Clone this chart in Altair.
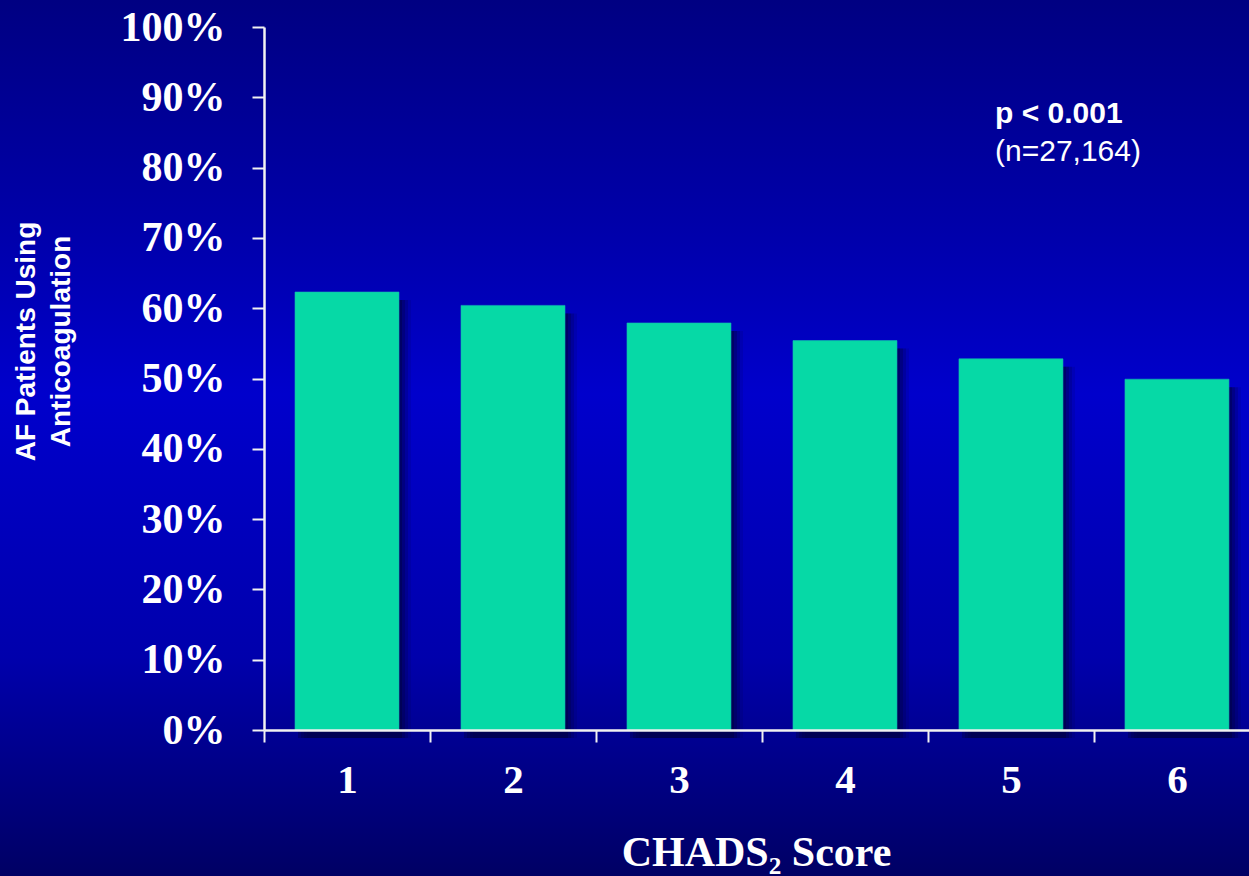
import altair as alt
import pandas as pd

# CHADS2 score categories and share of AF patients on anticoagulation
scores = [1, 2, 3, 4, 5, 6]
pct_anticoag = [0.623, 0.604, 0.579, 0.554, 0.528, 0.499]

# axis tick positions
y_tick_values = [0.0, 0.1, 0.2, 0.3, 0.4, 0.5, 0.6, 0.7, 0.8, 0.9, 1.0]
x_tick_edges = [0.5, 1.5, 2.5, 3.5, 4.5, 5.5, 6.5]

# annotation text
stat_bold = ["p < 0.001"]
stat_plain = ["(n=27,164)"]

x_title = "CHADS\u2082 Score"
y_title = ["AF Patients Using", "Anticoagulation"]

PLOT_W, PLOT_H = 985, 703
LEFT, TOP = 264, 27
CANVAS_W, CANVAS_H = 1249, 876

bars_df = pd.DataFrame({"score": scores, "pct": pct_anticoag})

x_scale = alt.Scale(domain=[0.5, 6.434], nice=False, zero=False, padding=0)
y_scale = alt.Scale(domain=[0, 1], nice=False)

# slide-style vertical gradient behind everything
backdrop = alt.Chart(pd.DataFrame({"k": [0]})).mark_rect(
    fill=alt.Gradient(
        gradient="linear",
        x1=0, x2=0, y1=0, y2=1,
        stops=[
            alt.GradientStop(offset=0.0, color="#000082"),
            alt.GradientStop(offset=0.25, color="#0000A8"),
            alt.GradientStop(offset=0.45, color="#0000CC"),
            alt.GradientStop(offset=0.75, color="#0000AC"),
            alt.GradientStop(offset=1.0, color="#000064"),
        ],
    ),
    strokeWidth=0,
).encode(
    x=alt.value(-LEFT),
    x2=alt.value(CANVAS_W - LEFT),
    y=alt.value(-TOP),
    y2=alt.value(CANVAS_H - TOP),
)

x_enc = alt.X(
    "score:Q",
    scale=x_scale,
    axis=alt.Axis(
        values=x_tick_edges,
        labelExpr="datum.value < 6 ? format(datum.value + 0.5, 'd') : ''",
        labelOffset=83,
        labelFlush=False,
        labelOverlap=False,
        labelFont="Liberation Serif",
        labelFontWeight="bold",
        labelFontSize=41,
        labelColor="white",
        labelPadding=18,
        tickSize=12,
        tickWidth=2,
        tickColor="#F2F2F2",
        domainColor="#F2F2F2",
        domainWidth=2.5,
        grid=False,
        zindex=2,
        title=x_title,
        titleFont="Liberation Serif",
        titleFontWeight="bold",
        titleFontSize=42,
        titleColor="white",
        titleX=492,
        titleY=135,
        titleAlign="center",
        titleBaseline="alphabetic",
    ),
)

y_enc = alt.Y(
    "pct:Q",
    scale=y_scale,
    axis=alt.Axis(
        values=y_tick_values,
        format=".0%",
        labelFont="Liberation Serif",
        labelFontWeight="bold",
        labelFontSize=42,
        labelColor="white",
        labelPadding=27,
        tickSize=12,
        tickWidth=2,
        tickColor="#F2F2F2",
        domainColor="#F2F2F2",
        domainWidth=2.5,
        grid=False,
        zindex=2,
        title=y_title,
        titleFont="Liberation Sans",
        titleFontWeight="bold",
        titleFontSize=28,
        titleLineHeight=35,
        titleColor="white",
        titleAngle=270,
        titleX=-238,
        titleY=314,
        titleAlign="center",
        titleBaseline="middle",
    ),
)

base = alt.Chart(bars_df)

# soft drop shadow to the right of each bar
shadows = [
    base.mark_bar(width=104, xOffset=off, yOffset=8, y2Offset=-8,
                  color="#000028", opacity=op).encode(
        x=x_enc,
        y=y_enc,
    )
    for off, op in [(3, 0.28), (6, 0.22), (9, 0.16), (12, 0.10)]
]

bars = base.mark_bar(width=104, color="#06D9A6", stroke="#12B8B2", strokeWidth=0.6).encode(
    x=x_enc,
    y=y_enc,
)

note_bold = alt.Chart(pd.DataFrame({"t": stat_bold})).mark_text(
    font="Liberation Sans", fontWeight="bold", fontSize=30, color="white",
    align="left", baseline="alphabetic",
).encode(text="t:N", x=alt.value(731), y=alt.value(96))

note_plain = alt.Chart(pd.DataFrame({"t": stat_plain})).mark_text(
    font="Liberation Sans", fontSize=30, color="white",
    align="left", baseline="alphabetic",
).encode(text="t:N", x=alt.value(731), y=alt.value(134))

chart = alt.layer(backdrop, *shadows, bars, note_bold, note_plain).properties(
    width=PLOT_W,
    height=PLOT_H,
    padding=0,
    background="#000080",
).configure_view(stroke=None)

chart.save("out.html", embed_options={"renderer": "svg", "actions": False})
